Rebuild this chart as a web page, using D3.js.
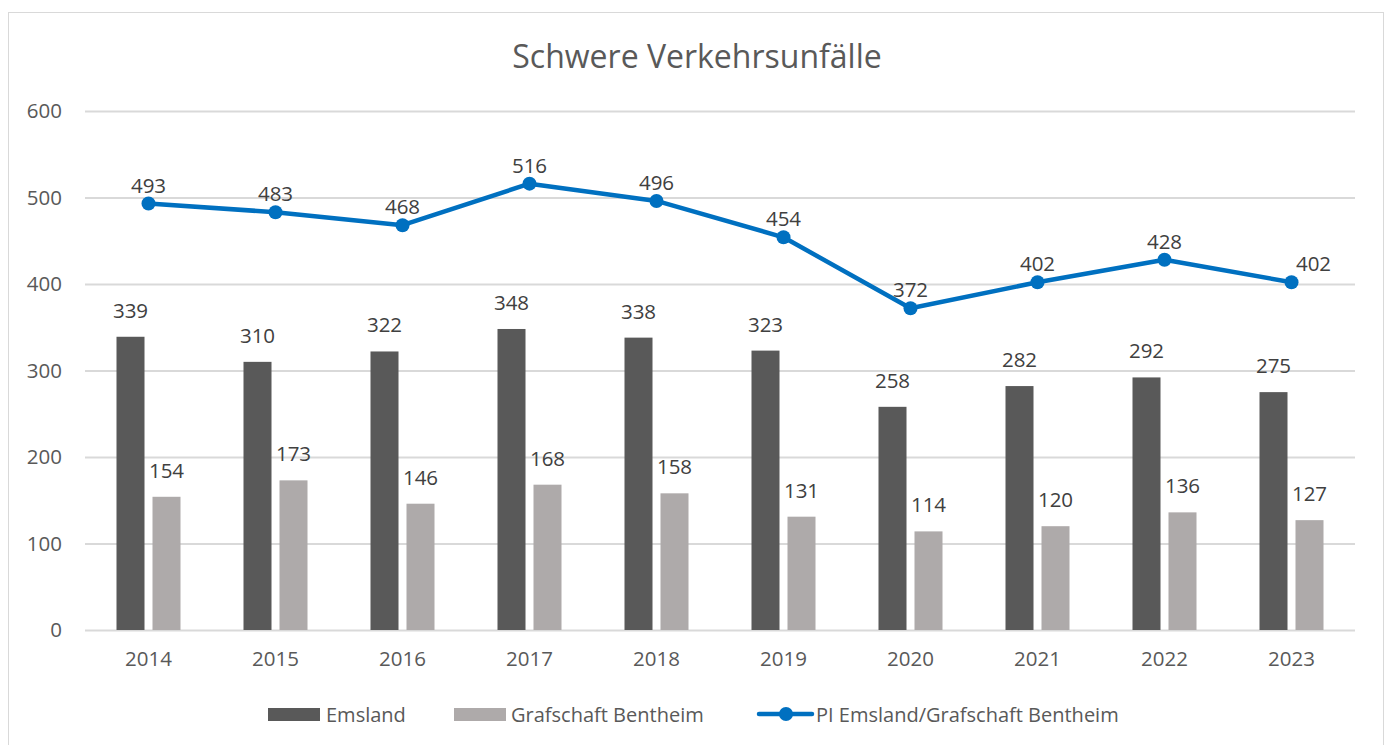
<!DOCTYPE html>
<html>
<head>
<meta charset="utf-8">
<script src="https://cdn.jsdelivr.net/npm/d3@7"></script>
<style>
  body { margin: 0; background: #fff; }
  svg { display: block; font-family: "Open Sans", "Noto Sans", sans-serif; }
</style>
</head>
<body>
<svg id="chart" width="1388" height="745"></svg>
<script>
// Daten
const years = ["2014", "2015", "2016", "2017", "2018", "2019", "2020", "2021", "2022", "2023"];
const emsland = [339, 310, 322, 348, 338, 323, 258, 282, 292, 275];
const bentheim = [154, 173, 146, 168, 158, 131, 114, 120, 136, 127];
const piTotal = [493, 483, 468, 516, 496, 454, 372, 402, 428, 402];
const yTicks = [0, 100, 200, 300, 400, 500, 600];

const colEms = "#595959", colBen = "#aeaaaa", colLine = "#0070c0";
const textCol = "#595959", labelCol = "#404040";
const fam = "'Open Sans', 'Noto Sans', sans-serif";

const svg = d3.select("#chart");

// Rahmen
svg.append("rect")
    .attr("x", 8.5).attr("y", 12.5)
    .attr("width", 1375).attr("height", 760)
    .attr("fill", "#fff").attr("stroke", "#d9d9d9").attr("stroke-width", 1);

// Titel
svg.append("text")
    .attr("x", 697).attr("y", 68)
    .attr("text-anchor", "middle")
    .attr("fill", textCol)
    .attr("font-size", 32)
    .text("Schwere Verkehrsunfälle");

const x = d3.scaleBand().domain(years).range([85, 1355]);
const y = d3.scaleLinear().domain([0, 600]).range([630, 111]);

// Gitternetz
svg.append("g").selectAll("line").data(yTicks).join("line")
    .attr("x1", 85).attr("x2", 1355)
    .attr("y1", d => y(d) + 0.5).attr("y2", d => y(d) + 0.5)
    .attr("stroke", "#d9d9d9").attr("stroke-width", 2);

// Y-Achse
const yAxis = svg.append("g")
    .attr("transform", "translate(62,0)")
    .call(d3.axisLeft(y).tickValues(yTicks).tickSize(0).tickPadding(0));
yAxis.select(".domain").remove();
yAxis.selectAll("text").attr("fill", textCol).attr("font-size", 20.5)
    .attr("font-family", fam);

// X-Achse
const xAxis = svg.append("g")
    .attr("transform", "translate(0,651)")
    .call(d3.axisBottom(x).tickSize(0).tickPadding(0));
xAxis.select(".domain").remove();
xAxis.selectAll("text").attr("fill", textCol).attr("font-size", 20.5)
    .attr("font-family", fam);

const barW = 28, gap = 8;
const cx = d => x(d) + x.bandwidth() / 2;

// Balken
const bars = [
    { values: emsland, color: colEms, off: -gap / 2 - barW },
    { values: bentheim, color: colBen, off: gap / 2 }
];
bars.forEach(s => {
    svg.append("g").selectAll("rect").data(years).join("rect")
        .attr("x", (d) => cx(d) + s.off)
        .attr("y", (d, i) => y(s.values[i]))
        .attr("width", barW)
        .attr("height", (d, i) => y(0) - y(s.values[i]))
        .attr("fill", s.color);
    svg.append("g").selectAll("text").data(years).join("text")
        .attr("x", d => cx(d) + s.off + barW / 2)
        .attr("y", (d, i) => y(s.values[i]) - 19)
        .attr("text-anchor", "middle")
        .attr("fill", labelCol)
        .attr("font-size", 20.5)
        .text((d, i) => s.values[i]);
});

// Linie
const line = d3.line().x((d, i) => cx(years[i])).y(d => y(d));
svg.append("path")
    .datum(piTotal)
    .attr("d", line)
    .attr("fill", "none")
    .attr("stroke", colLine)
    .attr("stroke-width", 4.5)
    .attr("stroke-linejoin", "round");
svg.append("g").selectAll("circle").data(piTotal).join("circle")
    .attr("cx", (d, i) => cx(years[i]))
    .attr("cy", d => y(d))
    .attr("r", 7)
    .attr("fill", colLine);
svg.append("g").selectAll("text").data(piTotal).join("text")
    .attr("x", (d, i) => cx(years[i]) + (i === piTotal.length - 1 ? 22 : 0))
    .attr("y", (d, i) => y(d) - 11)
    .attr("text-anchor", "middle")
    .attr("fill", labelCol)
    .attr("font-size", 20.5)
    .text(d => d);

// Legende
const leg = svg.append("g").attr("font-size", 20);
leg.append("rect").attr("x", 268).attr("y", 708).attr("width", 52).attr("height", 13).attr("fill", colEms);
leg.append("text").attr("x", 326).attr("y", 722).attr("fill", textCol).text("Emsland");
leg.append("rect").attr("x", 454).attr("y", 708).attr("width", 52).attr("height", 13).attr("fill", colBen);
leg.append("text").attr("x", 511).attr("y", 722).attr("fill", textCol).text("Grafschaft Bentheim");
leg.append("line").attr("x1", 759).attr("x2", 812).attr("y1", 714).attr("y2", 714)
    .attr("stroke", colLine).attr("stroke-width", 4.5).attr("stroke-linecap", "round");
leg.append("circle").attr("cx", 786).attr("cy", 714).attr("r", 7).attr("fill", colLine);
leg.append("text").attr("x", 816).attr("y", 722).attr("fill", textCol).text("PI Emsland/Grafschaft Bentheim");
</script>
</body>
</html>
